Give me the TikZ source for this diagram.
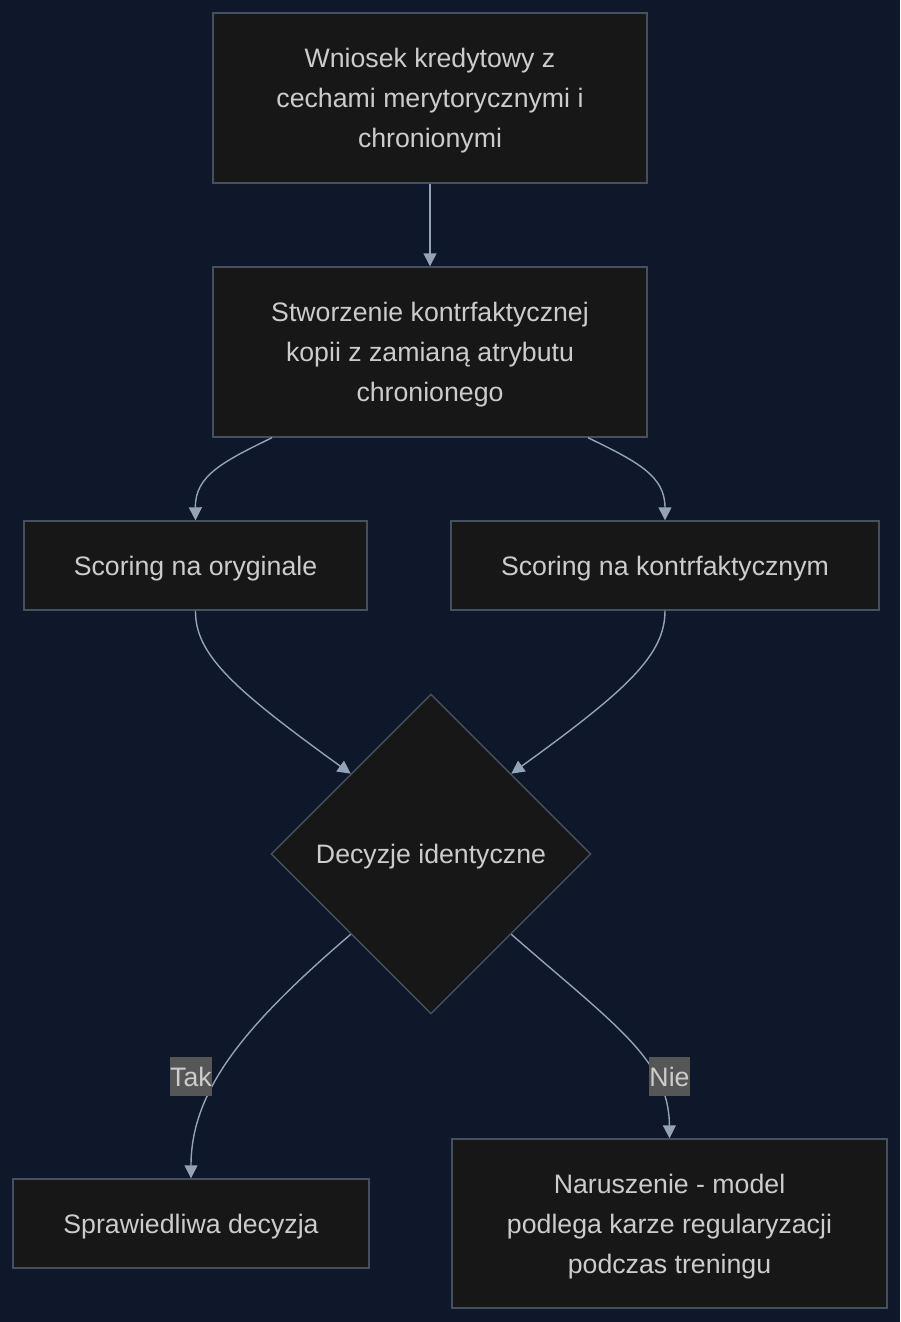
\documentclass[tikz,border=0pt]{standalone}
\usepackage{fontspec}
\setmainfont{Liberation Sans}
\usetikzlibrary{shapes.geometric, arrows.meta}

\definecolor{bgnavy}{HTML}{0F172A}
\definecolor{boxfill}{HTML}{171717}
\definecolor{boxline}{HTML}{45505F}
\definecolor{edgecol}{HTML}{94A3B8}
\definecolor{txtcol}{HTML}{CCCCCC}
\definecolor{lblfill}{HTML}{565656}

\newcommand{\lowtxt}[1]{\raisebox{-3pt}[\height][\depth]{#1}}

\begin{document}
\begin{tikzpicture}[x=1pt, y=-1pt,
    box/.style={draw=boxline, fill=boxfill, line width=1.4pt, text=txtcol,
        align=center, inner sep=0pt, font=\fontsize{26.7}{40}\selectfont},
    decision/.style={diamond, aspect=1, draw=boxline, fill=boxfill, line width=1.4pt,
        text=txtcol, inner sep=0pt, minimum width=320pt, minimum height=320pt,
        font=\fontsize{26.7}{40}\selectfont},
    edge/.style={draw=edgecol, line width=1.4pt, -{Triangle[length=13pt, width=13pt]}},
    lbl/.style={fill=lblfill, text=txtcol, inner sep=0pt, minimum width=40pt,
        minimum height=39pt, font=\fontsize{26.7}{40}\selectfont}]
    % Background
    \fill[bgnavy] (0,0) rectangle (900,1322);
    \useasboundingbox (0,0) rectangle (900,1322);

    % Boxes
    \node[box, minimum width=434pt, minimum height=170pt] (wniosek) at (430,98)
        {\lowtxt{\parbox{434pt}{\centering Wniosek kredytowy z\\cechami merytorycznymi i\\chronionymi}}};
    \node[box, minimum width=434pt, minimum height=170pt] (kopia) at (430,352)
        {\lowtxt{\parbox{434pt}{\centering Stworzenie kontrfaktycznej\\kopii z zamianą atrybutu\\chronionego}}};
    \node[box, minimum width=343pt, minimum height=89pt] (orig) at (195.5,565.5)
        {\lowtxt{Scoring na oryginale}};
    \node[box, minimum width=428pt, minimum height=89pt] (kontr) at (665,565.5)
        {\lowtxt{Scoring na kontrfaktycznym}};
    \node[decision] (decyzja) at (431,854) {\lowtxt{Decyzje identyczne}};
    \node[box, minimum width=356pt, minimum height=89pt] (fair) at (191,1223.5)
        {\lowtxt{Sprawiedliwa decyzja}};
    \node[box, minimum width=435pt, minimum height=169pt] (kara) at (669.5,1223.5)
        {\lowtxt{\parbox{435pt}{\centering Naruszenie - model\\podlega karze regularyzacji\\podczas treningu}}};

    % Arrows
    \draw[edge] (wniosek) -- (kopia);
    \draw[edge] ([xshift=-158pt]kopia.south) .. controls (222,462) and (195,476) .. (orig.north);
    \draw[edge] ([xshift=158pt]kopia.south) .. controls (638,462) and (665,476) .. (kontr.north);
    \draw[edge] (orig.south) .. controls (195,655) and (235,690) .. (decyzja.north west);
    \draw[edge] (kontr.south) .. controls (665,655) and (627,690) .. (decyzja.north east);
    \draw[edge] (decyzja.south west) .. controls (245,1025) and (191,1090) .. (fair.north);
    \draw[edge] (decyzja.south east) .. controls (615,1025) and (669,1060) .. (kara.north);

    % Labels
    \node[lbl] (tak) at (191,1076.5) {Tak};
    \node[lbl] (nie) at (669.5,1076.5) {Nie};
\end{tikzpicture}
\end{document}
